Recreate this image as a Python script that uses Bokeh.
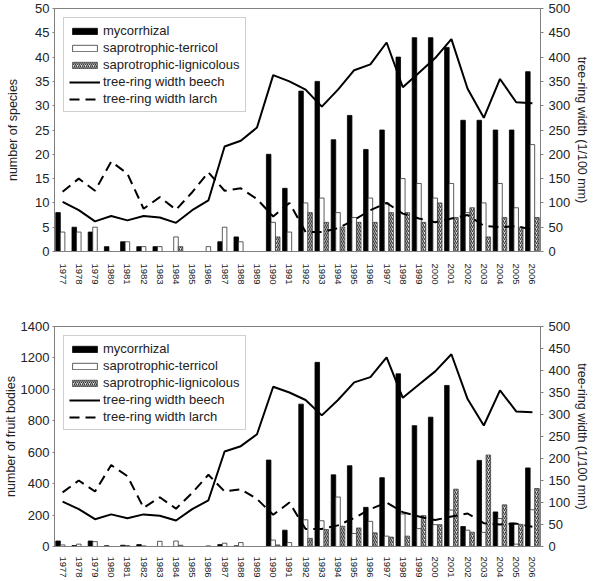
from bokeh.plotting import figure
from bokeh.models import (ColumnDataSource, FactorRange, Range1d, LinearAxis,
                          Legend, LegendItem, FixedTicker)
from bokeh.transform import dodge
from bokeh.layouts import column
from bokeh.embed import file_html
from bokeh.resources import INLINE

years = ["1977", "1978", "1979", "1980", "1981", "1982", "1983", "1984", "1985", "1986",
         "1987", "1988", "1989", "1990", "1991", "1992", "1993", "1994", "1995", "1996",
         "1997", "1998", "1999", "2000", "2001", "2002", "2003", "2004", "2005", "2006"]

species_myc = [8, 5, 4, 1, 2, 1, 1, 0, 0, 0, 2, 3, 0, 20, 13, 33, 35, 23, 28, 21,
               25, 40, 44, 44, 42, 27, 27, 25, 25, 37]
species_terr = [4, 4, 5, 0, 2, 1, 1, 3, 0, 1, 5, 2, 0, 6, 4, 10, 11, 8, 7, 11,
                10, 15, 14, 11, 14, 8, 10, 14, 9, 22]
species_lig = [0, 0, 0, 0, 0, 0, 0, 1, 0, 0, 0, 0, 0, 3, 0, 8, 6, 5, 6, 6,
               8, 8, 6, 10, 7, 9, 3, 7, 5, 7]

fruit_myc = [35, 6, 35, 5, 8, 12, 0, 0, 0, 0, 12, 4, 0, 550, 104, 906, 1172, 456, 514, 249,
             438, 1099, 769, 823, 1025, 127, 548, 220, 150, 500]
fruit_terr = [10, 15, 31, 0, 6, 4, 33, 35, 0, 4, 21, 25, 0, 41, 25, 170, 164, 315, 83, 160,
              66, 207, 114, 139, 232, 104, 90, 178, 15, 234]
fruit_lig = [0, 0, 0, 0, 0, 0, 0, 8, 0, 0, 0, 0, 0, 10, 0, 52, 108, 129, 118, 87,
             60, 66, 197, 139, 365, 91, 582, 265, 141, 369]

beech = [102, 85, 62, 73, 64, 73, 70, 59, 85, 105, 216, 228, 255, 363, 350, 333, 298, 333,
         373, 385, 430, 338, 368, 398, 437, 335, 275, 355, 307, 305]
larch = [123, 150, 125, 185, 160, 88, 112, 86, 122, 163, 125, 130, 108, 72, 100, 40, 40, 48,
         65, 85, 100, 78, 68, 60, 68, 75, 53, 50, 52, 45]

FONT = "Liberation Sans"
TXT = "#222222"
GRAY = "#808080"


def make_panel(myc, terr, lig, ymax, ystep, ylabel, height, top, bottom, lab_standoff,
               x_standoff):
    src = ColumnDataSource(dict(year=years, myc=myc, terr=terr, lig=lig,
                                beech=beech, larch=larch))
    p = figure(x_range=FactorRange(*years, range_padding=0), y_range=Range1d(0, ymax),
               width=592, height=height, output_backend="svg", toolbar_location=None,
               min_border_left=49, min_border_right=52, min_border_top=top,
               min_border_bottom=bottom)
    p.extra_y_ranges = {"right": Range1d(0, 500)}
    p.xgrid.visible = False
    p.ygrid.visible = False
    p.outline_line_color = GRAY
    p.background_fill_color = "white"

    w = 0.28
    r1 = p.vbar(x=dodge("year", -w, range=p.x_range), top="myc", width=w, source=src,
                fill_color="black", line_color="black", line_width=0.8)
    r2 = p.vbar(x=dodge("year", 0, range=p.x_range), top="terr", width=w, source=src,
                fill_color="white", line_color="#333333", line_width=0.8)
    r3 = p.vbar(x=dodge("year", w, range=p.x_range), top="lig", width=w, source=src,
                fill_color="#e4e4e4", line_color="#444444", line_width=0.8,
                hatch_pattern="right_diagonal_line", hatch_color="#3a3a3a",
                hatch_scale=4, hatch_weight=1.2)
    r4 = p.line(x="year", y="beech", source=src, y_range_name="right",
                line_color="black", line_width=2)
    r5 = p.line(x="year", y="larch", source=src, y_range_name="right",
                line_color="black", line_width=2, line_dash="10 6")

    # left axis
    ya = p.yaxis[0]
    ya.ticker = FixedTicker(ticks=list(range(0, ymax + 1, ystep)))
    ya.axis_label = ylabel
    ya.axis_label_text_font = FONT
    ya.axis_label_text_font_style = "normal"
    ya.axis_label_text_font_size = "12.5px"
    ya.axis_label_text_color = TXT
    ya.axis_label_standoff = lab_standoff
    ya.major_label_text_font = FONT
    ya.major_label_text_font_size = "13px"
    ya.major_label_text_color = TXT
    ya.major_label_standoff = 3
    ya.major_tick_out = 2
    ya.major_tick_in = 0
    ya.minor_tick_line_color = None
    ya.axis_line_color = GRAY
    ya.major_tick_line_color = GRAY

    ra = LinearAxis(y_range_name="right", ticker=FixedTicker(ticks=list(range(0, 501, 50))),
                    axis_label="tree-ring width (1/100 mm)")
    ra.axis_label_text_font = FONT
    ra.axis_label_text_font_style = "normal"
    ra.axis_label_text_font_size = "12.5px"
    ra.axis_label_text_color = TXT
    ra.axis_label_standoff = 2
    ra.major_label_text_font = FONT
    ra.major_label_text_font_size = "13px"
    ra.major_label_text_color = TXT
    ra.major_label_standoff = 5
    ra.major_tick_out = 3
    ra.major_tick_in = 0
    ra.minor_tick_line_color = None
    ra.axis_line_color = GRAY
    ra.major_tick_line_color = GRAY
    p.add_layout(ra, "right")

    xa = p.xaxis[0]
    xa.major_label_orientation = "vertical"
    xa.major_label_text_font = FONT
    xa.major_label_text_font_size = "9.5px"
    xa.major_label_text_color = TXT
    xa.major_label_standoff = x_standoff
    xa.major_tick_line_color = None
    xa.axis_line_color = GRAY

    legend = Legend(items=[
        LegendItem(label="mycorrhizal", renderers=[r1]),
        LegendItem(label="saprotrophic-terricol", renderers=[r2]),
        LegendItem(label="saprotrophic-lignicolous", renderers=[r3]),
        LegendItem(label="tree-ring width beech", renderers=[r4]),
        LegendItem(label="tree-ring width larch", renderers=[r5]),
    ], location="top_left")
    legend.margin = 9
    legend.padding = 5
    legend.spacing = 2
    legend.glyph_width = 31
    legend.glyph_height = 8
    legend.label_height = 13
    legend.label_standoff = 3
    legend.label_text_font = FONT
    legend.label_text_font_size = "13px"
    legend.label_text_color = TXT
    legend.border_line_color = "#a0a0a0"
    legend.border_line_width = 1
    legend.background_fill_alpha = 1
    p.add_layout(legend, "center")
    return p


p1 = make_panel(species_myc, species_terr, species_lig, 50, 5, "number of species",
                287, 8, 36, 12, 6)
p2 = make_panel(fruit_myc, fruit_terr, fruit_lig, 1400, 200, "number of fruit bodies",
                293, 39, 33, 0, 4)

layout = column(p1, p2, spacing=0)
open("out.html", "w").write(file_html(layout, INLINE))
